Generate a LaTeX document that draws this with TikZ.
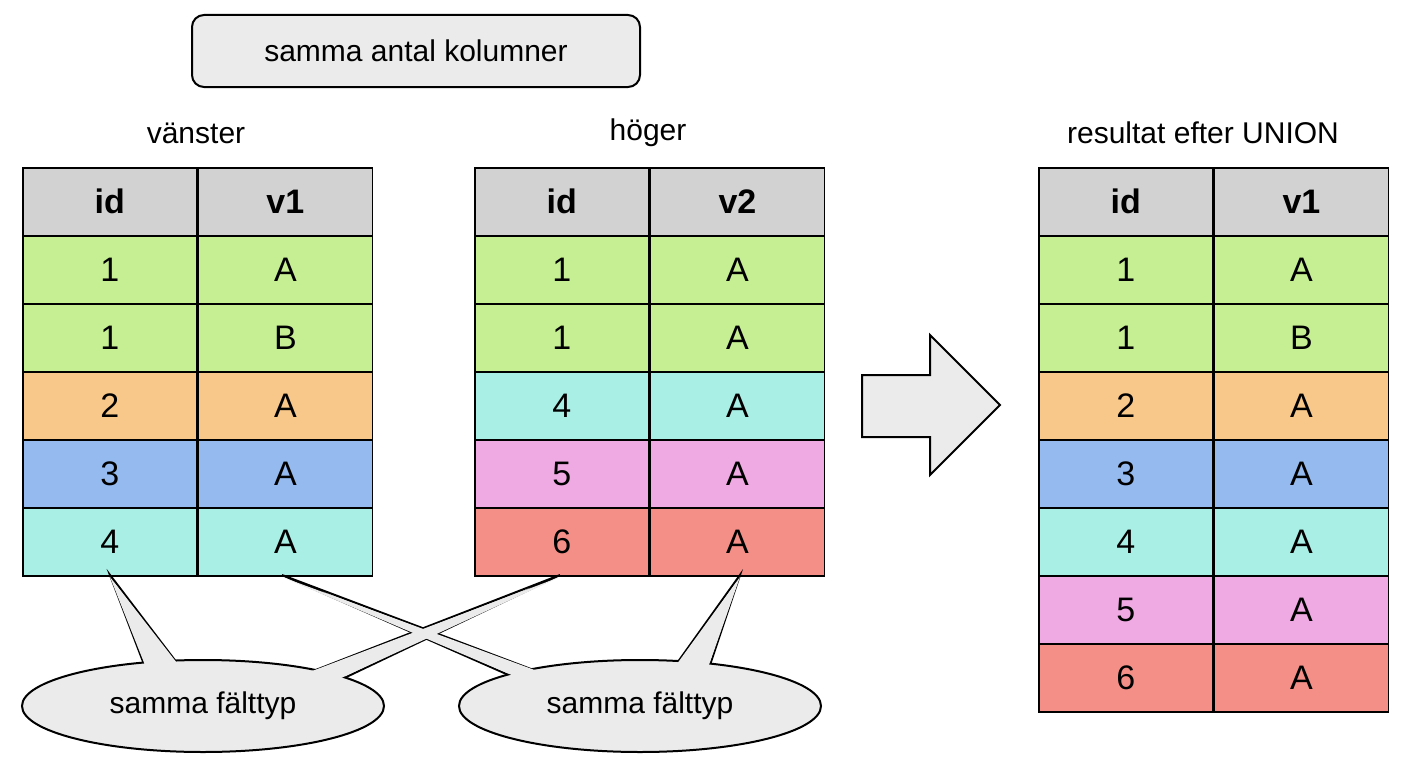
\documentclass[tikz,border=0pt]{standalone}
\usepackage{fontspec}
\setmainfont{Liberation Sans}
\usetikzlibrary{positioning,shapes.geometric}
\definecolor{hdrgray}{HTML}{D2D2D2}
\definecolor{rowgreen}{HTML}{C6EF94}
\definecolor{roworange}{HTML}{F8C78A}
\definecolor{rowblue}{HTML}{94BAF0}
\definecolor{rowcyan}{HTML}{A9EFE5}
\definecolor{rowpink}{HTML}{F0AAE3}
\definecolor{rowred}{HTML}{F48F88}
\definecolor{bubblegray}{HTML}{EBEBEB}

\tikzset{
  cell/.style={draw=black, line width=1.6pt, minimum width=174pt, minimum height=68pt,
    inner sep=0pt, font=\fontsize{34}{34}\selectfont},
  headcell/.style={cell, fill=hdrgray, font=\fontsize{34}{34}\selectfont\bfseries},
  title/.style={font=\fontsize{30}{30}\selectfont},
  bubble/.style={fill=bubblegray, draw=black, line width=2pt},
}

\begin{document}
\begin{tikzpicture}[x=1pt, y=-1pt]
      \useasboundingbox (0,0) rectangle (1408,768);

      % top box
      \node [draw, line width=2pt, rounded corners=12pt, fill=bubblegray, minimum width=448pt,
        minimum height=72pt, font=\fontsize{30}{30}\selectfont] (cols) at (416,51) {samma antal kolumner};

      % titles
      \node [title] (tl) at (196,133) {vänster};
      \node [title] (tm) at (648,133) {höger};
      \node [title] (tr) at (1203,133) {resultat efter UNION};

      % tables
      \foreach \t/\x/\v/\rows in {%
          L/22/v1/{1/A/rowgreen,1/B/rowgreen,2/A/roworange,3/A/rowblue,4/A/rowcyan},
          M/474/v2/{1/A/rowgreen,1/A/rowgreen,4/A/rowcyan,5/A/rowpink,6/A/rowred},
          R/1038/v1/{1/A/rowgreen,1/B/rowgreen,2/A/roworange,3/A/rowblue,4/A/rowcyan,5/A/rowpink,6/A/rowred}} {
        \node [headcell, anchor=north west] (\t-0-1) at (\x,167) {id};
        \node [headcell, right=0pt of \t-0-1] (\t-0-2) {\v};
        \foreach \i/\w/\c [count=\n] in \rows {
          \node [cell, fill=\c, anchor=north west] (\t-\n-1) at (\x,167+68*\n) {\i};
          \node [cell, fill=\c, right=0pt of \t-\n-1] (\t-\n-2) {\w};
        }
      }

      % big arrow
      \draw [bubble] (862,375) -- (930,375) -- (930,335) -- (1000,405) -- (930,475)
        -- (930,437) -- (862,437) -- cycle;

      % callouts
      \coordinate (p1) at (110,575);
      \coordinate (p2) at (560,575);
      \coordinate (p3) at (282,575);
      \coordinate (p4) at (740,575);
      \draw [bubble, line join=miter] (p1) -- (150,680) -- (190,680) -- cycle;
      \draw [bubble, line join=miter] (p2) -- (290,680) -- (340,680) -- cycle;
      \draw [bubble, line join=miter] (p3) -- (520,680) -- (560,680) -- cycle;
      \draw [bubble, line join=miter] (p4) -- (665,680) -- (705,680) -- cycle;
      \node [bubble, ellipse, minimum width=362pt, minimum height=92pt] (e1) at (203,706) {};
      \node [bubble, ellipse, minimum width=362pt, minimum height=92pt] (e2) at (640,706) {};
      \fill [bubblegray] (p1) ++(0,2) -- (150.5,679) -- (189.5,679) -- cycle;
      \fill [bubblegray] (p2) ++(0,2) -- (291,679) -- (339,679) -- cycle;
      \fill [bubblegray] (p3) ++(0,2) -- (521,679) -- (559,679) -- cycle;
      \fill [bubblegray] (p4) ++(0,2) -- (666,679) -- (704,679) -- cycle;
      \node [title] at (e1) {samma fälttyp};
      \node [title] at (e2) {samma fälttyp};
      \end{tikzpicture}
\end{document}
